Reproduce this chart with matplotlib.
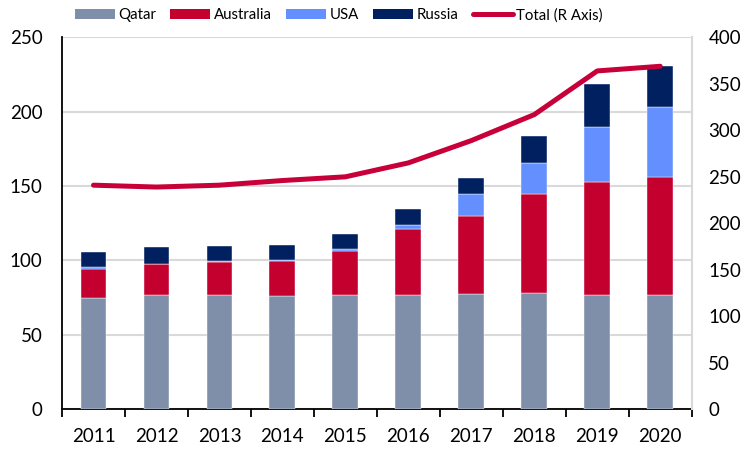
import matplotlib
matplotlib.use("Agg")
import matplotlib.pyplot as plt
import numpy as np
from matplotlib.patches import Patch
from matplotlib.lines import Line2D

years = ["2011", "2012", "2013", "2014", "2015", "2016", "2017", "2018", "2019", "2020"]
qatar = [75, 77, 76.5, 76, 77, 76.5, 77.5, 78, 77, 77]
australia = [19, 20.5, 22.5, 23.5, 29.5, 44.5, 52.5, 67, 76, 79]
usa = [1.5, 0.3, 0.3, 0.5, 1, 3, 15, 20.5, 37, 47]
russia = [10.5, 11, 10.5, 10.5, 10.5, 10.5, 10.5, 18, 28.5, 28]
total = [241, 239, 241, 246, 250, 265, 289, 317, 364, 369]

series_names = ["Qatar", "Australia", "USA", "Russia"]
colors = ["#7F8FA9", "#C4002F", "#6490FF", "#002060"]
line_color = "#C8003A"

plt.rcParams['font.family'] = ['Lato', 'DejaVu Sans']

fig = plt.figure(figsize=(7.47, 4.5), dpi=100)
ax = fig.add_axes([0.083, 0.091, 0.843, 0.8257])
ax2 = ax.twinx()

x = np.arange(len(years))
bottom = np.zeros(len(years))
for name, vals, c in zip(series_names, [qatar, australia, usa, russia], colors):
    ax.bar(x, vals, width=0.41, bottom=bottom, color=c, label=name, zorder=3,
           edgecolor="white", linewidth=0.3)
    bottom += np.array(vals)

ax2.plot(x, total, color=line_color, linewidth=3.6, solid_capstyle="round", zorder=4)

ax.set_xlim(-0.5, len(years) - 0.5)
ax.set_ylim(0, 250)
ax2.set_ylim(0, 400)
ax.set_yticks(np.arange(0, 251, 50))
ax2.set_yticks(np.arange(0, 401, 50))
ax.yaxis.grid(True, color="#D9D9D9", linewidth=1.5, zorder=0)
ax.set_axisbelow(True)

ax.set_xticks(x)
ax.set_xticklabels(years)
ax.set_xticks(np.arange(-0.5, len(years), 1.0), minor=True)
ax.tick_params(axis="x", which="major", length=0, labelsize=13.5, pad=14)
ax.tick_params(axis="x", which="minor", length=6, width=1.3, color="black")
ax.tick_params(axis="y", length=0, labelsize=13.5, pad=14)
ax2.tick_params(axis="y", length=0, labelsize=13.5, pad=12)

ax.spines["top"].set_visible(False)
ax2.spines["top"].set_visible(False)
ax.spines["left"].set_color("black")
ax.spines["left"].set_linewidth(1.3)
ax.spines["bottom"].set_color("black")
ax.spines["bottom"].set_linewidth(1.3)
ax2.spines["right"].set_color("#D9D9D9")
ax2.spines["right"].set_linewidth(1.5)
ax2.spines["left"].set_visible(False)
ax2.spines["bottom"].set_visible(False)
ax.spines["right"].set_visible(False)

handles = [Patch(facecolor=c, label=n) for n, c in zip(series_names, colors)]
handles.append(Line2D([0], [0], color=line_color, linewidth=3.6, solid_capstyle="round",
                      label="Total (R Axis)"))
fig.legend(handles=handles, loc="upper left", bbox_to_anchor=(0.082, 1.012), ncol=5,
           frameon=False, fontsize=10.8, handlelength=2.65, handleheight=0.65,
           handletextpad=0.25, columnspacing=0.95)

fig.savefig("out.png", dpi=100)
